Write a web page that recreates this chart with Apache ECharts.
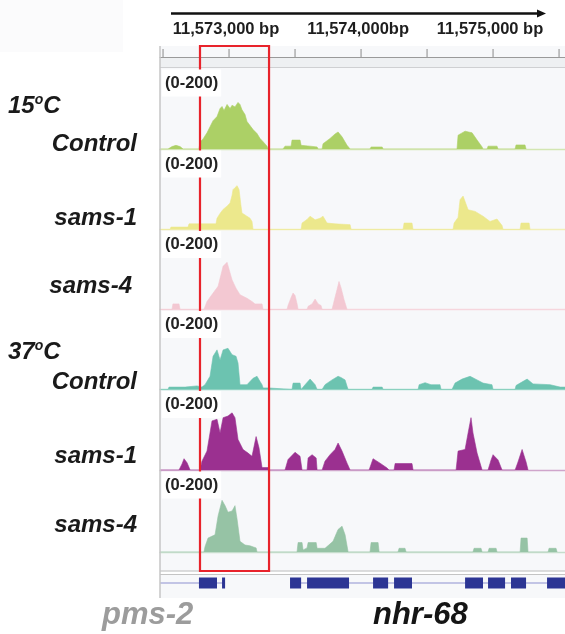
<!DOCTYPE html>
<html><head><meta charset="utf-8">
<script src="https://cdn.jsdelivr.net/npm/echarts@6/dist/echarts.min.js"></script>
<style>html,body{margin:0;padding:0;background:#fff}#c{width:565px;height:634px}</style>
</head><body><div id="c"></div>
<script>
// ---------------- data ----------------
const chromStart = 11572000;          // positions below are bp offsets from this
const viewStart = 11572477, viewEnd = 11575545;
const dataRange = [0, 200];

const rulerTicks = [11572500, 11573000, 11573500, 11574000, 11574500, 11575000, 11575500];
const rulerLabelPos = [11573000, 11574000, 11575000];
const rulerLabels = ['11,573,000 bp', '11,574,000bp', '11,575,000 bp'];

const conditions = ['15', '37'];
const trackNames = ['Control', 'sams-1', 'sams-4', 'Control', 'sams-1', 'sams-4'];

const ctrl15 = [[538,0],[568,6],[598,9],[629,6],[652,0],
[772,0],[780,17],[803,25],[833,40],[856,55],[879,70],[909,80],[932,100],[947,105],[962,95],[985,110],[1008,100],[1023,108],[1045,104],[1068,115],[1083,110],[1098,97],[1121,85],[1136,68],[1159,58],[1182,48],[1212,38],[1235,26],[1258,18],[1288,7],[1295,0],
[1409,0],[1424,7],[1470,7],[1477,22],[1538,22],[1546,9],[1614,7],[1667,5],[1675,0],
[1705,0],[1712,13],[1765,26],[1803,37],[1826,42],[1856,30],[1894,9],[1917,0],
[2068,0],[2076,5],[2160,5],[2167,0],
[2727,0],[2735,34],[2788,44],[2841,40],[2879,22],[2917,5],[2924,0],
[2955,0],[2962,7],[3030,7],[3038,0],
[3167,0],[3174,10],[3242,10],[3250,0]];

const sams1_15 = [[553,0],[560,6],[689,6],[697,14],[901,14],[909,28],[932,40],[955,50],[985,58],[1008,66],[1023,85],[1030,99],[1045,104],[1061,109],[1076,99],[1090,60],[1098,41],[1121,36],[1136,33],[1159,28],[1174,20],[1182,0],
[1546,0],[1553,16],[1591,25],[1614,33],[1652,24],[1690,28],[1712,33],[1742,16],[1803,14],[1917,12],[1925,0],
[2318,0],[2326,16],[2386,16],[2394,0],
[2697,0],[2705,16],[2735,30],[2750,74],[2773,83],[2811,49],[2864,45],[2924,33],[2977,20],[3030,26],[3068,10],[3076,0],
[3205,0],[3212,16],[3273,16],[3280,0]];

const sams4_15 = [[568,0],[575,14],[621,14],[629,0],
[810,0],[833,20],[879,41],[917,58],[955,108],[985,118],[1023,74],[1053,53],[1083,37],[1136,28],[1174,20],[1197,14],[1250,14],[1258,0],
[1439,0],[1447,10],[1470,30],[1485,41],[1500,35],[1515,15],[1523,0],
[1591,0],[1599,8],[1629,14],[1652,26],[1675,14],[1697,10],[1705,0],
[1780,0],[1795,20],[1818,50],[1833,70],[1848,55],[1871,25],[1894,0]];

const ctrl37 = [[538,0],[545,6],[667,6],[682,9],[757,9],[765,6],[795,6],[818,12],[856,33],[879,83],[909,99],[932,74],[955,99],[992,103],[1023,87],[1053,83],[1068,66],[1083,12],[1136,12],[1182,28],[1212,33],[1235,20],[1250,12],[1258,4],[1295,4],[1303,0],
[1477,0],[1485,16],[1538,16],[1546,0],
[1561,0],[1576,12],[1614,26],[1652,12],[1667,0],
[1705,0],[1727,12],[1780,24],[1826,33],[1848,30],[1879,24],[1894,8],[1902,0],
[2083,0],[2091,6],[2160,6],[2167,0],
[2432,0],[2440,12],[2485,17],[2530,12],[2598,12],[2606,0],
[2689,0],[2712,16],[2765,26],[2826,33],[2879,24],[2924,16],[2992,12],[3000,0],
[3167,0],[3174,10],[3205,16],[3258,26],[3303,14],[3432,12],[3508,6],[3545,6]];

const sams1_37 = [[621,0],[644,15],[659,28],[682,18],[705,0],
[780,0],[795,22],[833,47],[871,122],[909,126],[932,92],[955,130],[992,134],[1023,142],[1045,130],[1068,76],[1106,51],[1144,42],[1174,34],[1205,83],[1227,55],[1250,6],[1295,6],[1303,0],
[1424,0],[1447,26],[1500,44],[1538,34],[1553,0],
[1591,0],[1599,30],[1629,38],[1660,30],[1667,0],
[1705,0],[1727,22],[1765,38],[1803,51],[1826,67],[1856,47],[1894,17],[1917,0],
[2061,0],[2091,28],[2144,17],[2197,5],[2212,0],
[2250,0],[2258,16],[2386,16],[2394,0],
[2720,0],[2735,47],[2788,51],[2811,92],[2833,130],[2848,92],[2879,42],[2917,0],
[2962,0],[2985,25],[3000,38],[3038,25],[3068,0],
[3167,0],[3189,20],[3220,51],[3250,20],[3265,0]];

const sams4_37 = [[810,0],[818,13],[841,34],[894,42],[917,88],[947,126],[970,113],[992,97],[1023,100],[1045,113],[1061,80],[1083,26],[1121,17],[1159,15],[1205,10],[1212,0],
[1515,0],[1523,23],[1553,23],[1561,5],[1591,10],[1599,23],[1660,23],[1667,9],[1727,9],[1742,12],[1788,26],[1826,55],[1856,63],[1879,42],[1902,0],
[2068,0],[2076,23],[2129,23],[2137,0],
[2280,0],[2288,9],[2333,9],[2341,0],
[2848,0],[2856,9],[2909,9],[2917,0],
[2962,0],[2970,9],[3023,9],[3030,0],
[3205,0],[3212,34],[3258,34],[3265,0],
[3417,0],[3424,9],[3477,9],[3485,0]];

const exons = [[772,909],[947,970],[1462,1546],[1591,1909],[2091,2205],[2250,2386],[2788,2924],[2962,3091],[3136,3250],[3409,3545]];
const introns = [[477,970],[1462,3545]];
const geneNames = ['pms-2', 'nhr-68'];
const highlight = [780, 1303];

// ---------------- layout / style ----------------
const tracks = [ctrl15, sams1_15, sams4_15, ctrl37, sams1_37, sams4_37];
const fills = ['#acd066', '#ece88c', '#f3c8d2', '#6cc3b0', '#9b3090', '#96c3a5'];
const baseColors = ['#d3e6b2', '#f2efb6', '#f6d6dd', '#a5dccd', '#cfa5cb', '#c5ddcc'];
const trackTop = [68, 149, 229.5, 309.5, 389.5, 470];
const trackBase = [149, 229.5, 309.5, 389.5, 470, 552];
const PANEL_L = 160;

const chart = echarts.init(document.getElementById('c'));
const grids = [{left: PANEL_L, right: 0, top: 46, height: 11}];
trackTop.forEach((t, i) => grids.push({left: PANEL_L, right: 0, top: t, height: trackBase[i] - t}));
grids.push({left: PANEL_L, right: 0, top: 574, height: 18});

const xAxes = grids.map((g, i) => ({
  gridIndex: i, type: 'value', min: viewStart, max: viewEnd,
  axisLabel: {show: false}, axisTick: {show: false}, splitLine: {show: false},
  axisLine: {show: i < 7, lineStyle: {color: i === 0 ? '#9a9a9a' : baseColors[i - 1], width: i === 0 ? 1 : 1.3}}
}));
const yAxes = grids.map((g, i) => ({
  gridIndex: i, type: 'value', show: false,
  min: (i >= 1 && i <= 6) ? dataRange[0] : 0,
  max: (i >= 1 && i <= 6) ? dataRange[1] : 1
}));

const series = [];
tracks.forEach((tr, i) => {
  const d = [[viewStart, 0]].concat(tr.map(p => [chromStart + p[0], p[1]]));
  series.push({
    type: 'line', xAxisIndex: i + 1, yAxisIndex: i + 1, data: d,
    symbol: 'none', silent: true, animation: false, z: 3,
    lineStyle: {color: fills[i], width: 0.6},
    areaStyle: {color: fills[i], opacity: 1}
  });
});
// ruler ticks
series.push({
  type: 'custom', xAxisIndex: 0, yAxisIndex: 0, silent: true, animation: false,
  data: rulerTicks.map(t => [t, 0]),
  renderItem: (p, api) => {
    const c = api.coord([api.value(0), 0]);
    return {type: 'line', shape: {x1: c[0], y1: c[1] - 8, x2: c[0], y2: c[1]},
      style: {stroke: '#8a8a8a', lineWidth: 1}};
  }
});
// ruler labels
series.push({
  type: 'custom', xAxisIndex: 0, yAxisIndex: 0, silent: true, animation: false, clip: false,
  data: rulerLabelPos.map((t, i) => [t, i]),
  renderItem: (p, api) => {
    const c = api.coord([api.value(0), 0]);
    return {type: 'text', x: c[0] - 3, y: 29,
      style: {text: rulerLabels[api.value(1)], font: 'bold 16.5px "Liberation Sans"', fill: '#1e1e1e',
        align: 'center', verticalAlign: 'middle'}};
  }
});
// introns
series.push({
  type: 'custom', xAxisIndex: 7, yAxisIndex: 7, silent: true, animation: false, z: 3,
  data: introns.map(e => [chromStart + e[0], chromStart + e[1]]),
  renderItem: (p, api) => {
    const a = api.coord([api.value(0), 0.5]), b = api.coord([api.value(1), 0.5]);
    return {type: 'line', shape: {x1: a[0], y1: a[1], x2: b[0], y2: b[1]},
      style: {stroke: '#8e90cf', lineWidth: 1.2}};
  }
});
// exons
series.push({
  type: 'custom', xAxisIndex: 7, yAxisIndex: 7, silent: true, animation: false, z: 4,
  data: exons.map(e => [chromStart + e[0], chromStart + e[1]]),
  renderItem: (p, api) => {
    const a = api.coord([api.value(0), 0.5]), b = api.coord([api.value(1), 0.5]);
    return {type: 'rect', shape: {x: a[0], y: a[1] - 5.5, width: Math.max(b[0] - a[0], 2), height: 11},
      style: {fill: '#2c3594'}};
  }
});

chart.setOption({animation: false, grid: grids, xAxis: xAxes, yAxis: yAxes, series: series});

// ---------------- decorations ----------------
const px = v => chart.convertToPixel({xAxisIndex: 1}, v);
const g = [];
g.push({type: 'rect', z: -5, shape: {x: 0, y: 0, width: 123, height: 52}, style: {fill: '#fbfbfc'}});
g.push({type: 'rect', z: -4, shape: {x: PANEL_L, y: 46, width: 565 - PANEL_L, height: 552}, style: {fill: '#f7f8fa'}});
g.push({type: 'rect', z: -3, shape: {x: PANEL_L, y: 57.5, width: 565 - PANEL_L, height: 9.5}, style: {fill: '#eef0f2'}});
g.push({type: 'line', z: -2, shape: {x1: PANEL_L, y1: 67.5, x2: 565, y2: 67.5}, style: {stroke: '#cfd0d2', lineWidth: 1}});
g.push({type: 'rect', z: -3, shape: {x: PANEL_L, y: 571.5, width: 565 - PANEL_L, height: 2.5}, style: {fill: '#ffffff'}});
g.push({type: 'line', z: -2, shape: {x1: PANEL_L, y1: 571, x2: 565, y2: 571}, style: {stroke: '#bdbdbd', lineWidth: 1}});
g.push({type: 'line', z: -2, shape: {x1: PANEL_L, y1: 574.5, x2: 565, y2: 574.5}, style: {stroke: '#c4c4c4', lineWidth: 1}});
g.push({type: 'line', z: 5, shape: {x1: PANEL_L, y1: 46, x2: PANEL_L, y2: 598}, style: {stroke: '#c6c6c6', lineWidth: 1.5}});
// arrow
g.push({type: 'line', z: 5, shape: {x1: 171, y1: 13.5, x2: 540, y2: 13.5}, style: {stroke: '#111', lineWidth: 2.5}});
g.push({type: 'polygon', z: 5, shape: {points: [[537, 9.5], [546, 13.5], [537, 17.5]]}, style: {fill: '#111'}});
// highlight box
const hx1 = px(chromStart + highlight[0]), hx2 = px(chromStart + highlight[1]);
g.push({type: 'rect', z: 10, shape: {x: hx1, y: 46, width: hx2 - hx1, height: 525},
  style: {fill: 'none', stroke: '#e8232b', lineWidth: 2.2}});
// data range labels
trackTop.forEach((t, i) => {
  g.push({type: 'text', z: 20, x: 162, y: t + 1.5,
    style: {text: '(' + dataRange[0] + '-' + dataRange[1] + ')', font: 'bold 16.5px "Liberation Sans"', fill: '#222',
      backgroundColor: '#ffffff', padding: [5, 3, 5, 3], verticalAlign: 'top', align: 'left'}});
});
// left labels
const LF = 'italic bold 24px "Liberation Sans"';
const condY = [106, 352];
conditions.forEach((c, i) => {
  g.push({type: 'text', z: 20, x: 8, y: condY[i],
    style: {text: '{n|' + c + '}{s|o}{n|C}', verticalAlign: 'middle', align: 'left',
      rich: {n: {font: LF, fill: '#1a1a1a', lineHeight: 26},
             s: {font: 'italic bold 14px "Liberation Sans"', fill: '#1a1a1a', lineHeight: 26, verticalAlign: 'top', padding: [0, 0, 0, 0]}}}});
});
const nameY = [144, 218, 286, 382, 456, 525];
const nameX = [137, 137, 132, 137, 137, 137];
trackNames.forEach((n, i) => {
  g.push({type: 'text', z: 20, x: nameX[i], y: nameY[i],
    style: {text: n, font: LF, fill: '#1a1a1a', align: 'right', verticalAlign: 'middle'}});
});
// gene names
g.push({type: 'text', z: 20, x: 102, y: 615, style: {text: geneNames[0], font: 'italic bold 31px "Liberation Sans"', fill: '#9c9c9c', align: 'left', verticalAlign: 'middle'}});
g.push({type: 'text', z: 20, x: 373, y: 615, style: {text: geneNames[1], font: 'italic bold 31px "Liberation Sans"', fill: '#151515', align: 'left', verticalAlign: 'middle'}});

chart.setOption({graphic: g});
</script>
</body></html>
